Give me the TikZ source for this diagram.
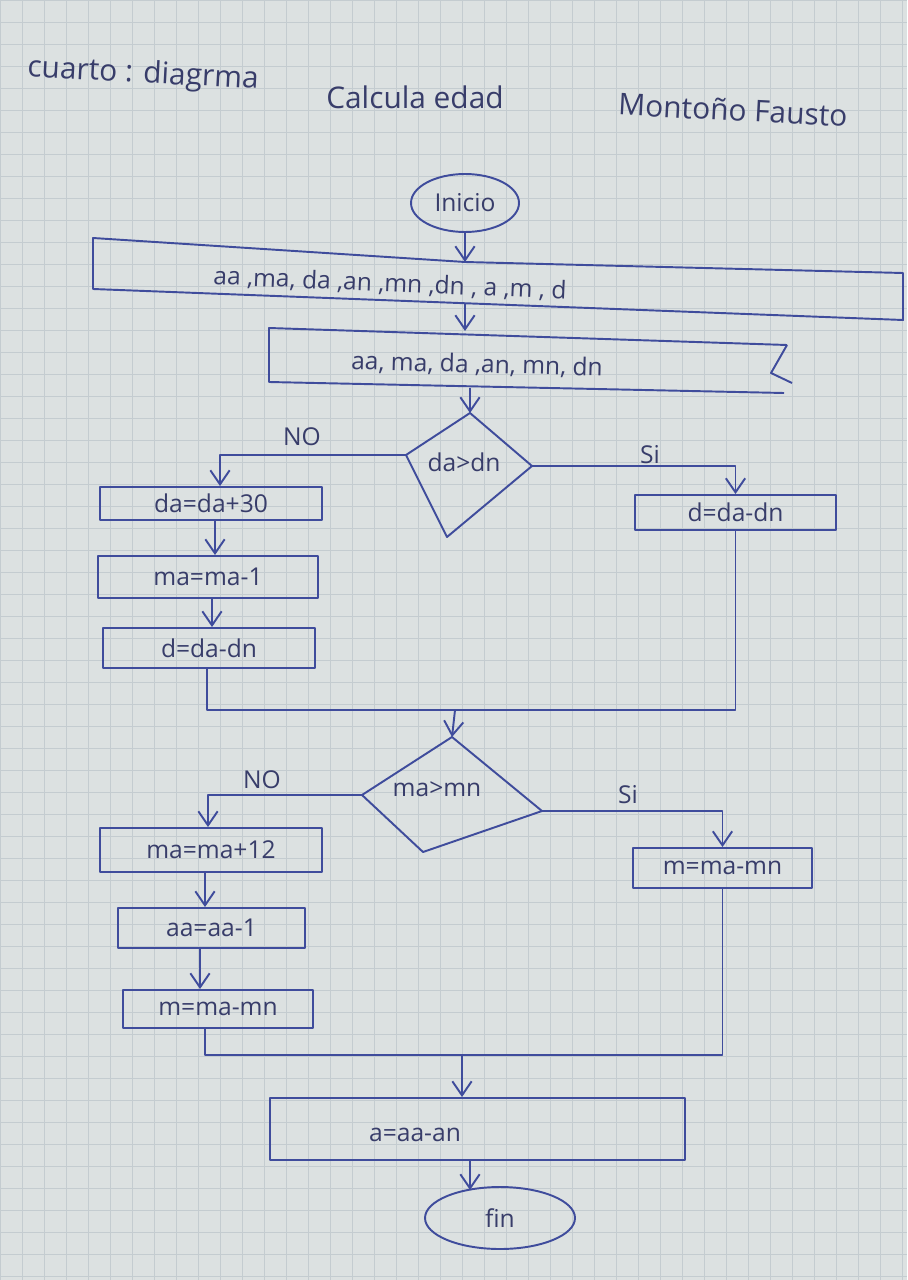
\documentclass[tikz,border=0pt]{standalone}
\usepackage{fontspec}
\setmainfont{Open Sans}
\usetikzlibrary{arrows.meta,shapes.geometric,calc}
\definecolor{paper}{HTML}{DCE1E1}
\definecolor{gridc}{HTML}{C4CCD0}
\definecolor{ink}{HTML}{3F4C9C}
\definecolor{txt}{HTML}{383D6A}
\begin{document}
\begin{tikzpicture}[x=0.02cm,y=-0.02cm,
  inkline/.style={draw=ink,line width=1.1pt,line join=round},
  arr/.style={inkline,-{Straight Barb[length=8pt,width=11pt,line width=1.1pt]}},
  box/.style={inkline,rectangle,inner sep=0pt,text=txt,font=\fontsize{14}{16}\selectfont},
  term/.style={inkline,ellipse,inner sep=0pt,text=txt,font=\fontsize{14}{16}\selectfont},
  lbl/.style={text=txt,font=\fontsize{14}{16}\selectfont,inner sep=1pt},
  ttl/.style={text=txt,font=\fontsize{17}{20}\selectfont,inner sep=1pt}]
% paper and grid
\fill[paper] (0,0) rectangle (907,1280);
\useasboundingbox (0,0) rectangle (907,1280);
\foreach \i in {0,22,...,907} \draw[gridc,line width=0.5pt] (\i,0) -- (\i,1280);
\foreach \j in {0,22,...,1280} \draw[gridc,line width=0.5pt] (0,\j) -- (907,\j);

% titles
\node[ttl,rotate=-3] (t1) at (143,75) {cuarto : diagrma};
\node[ttl] (t2) at (415,97) {Calcula edad};
\node[ttl,rotate=-3] (t3) at (733,110) {Montoño Fausto};

% start
\node[term,minimum width=2.16cm,minimum height=1.16cm] (inicio) at (465,203) {Inicio};

% input 1 (hand-drawn box)
\coordinate (i1tl) at (93,238);
\coordinate (i1tm) at (465,262);
\coordinate (i1tr) at (903,273);
\coordinate (i1br) at (903,320);
\coordinate (i1bl) at (93,289);
\draw[inkline] (i1tl) -- (i1tm) -- (i1tr) -- (i1br) -- (i1bl) -- cycle;
\node[lbl,rotate=-2.4] (in1) at (390,284) {aa ,ma, da ,an ,mn ,dn , a ,m , d};
\coordinate (in1n) at (465,262);
\coordinate (in1s) at (465,304);
\draw[arr] (inicio.south) -- (in1n);

% input 2 (box with broken right side)
\coordinate (i2tl) at (269,328);
\coordinate (i2tr) at (787,345);
\coordinate (i2z) at (771,373);
\coordinate (i2zr) at (792,383);
\coordinate (i2br) at (784,393);
\coordinate (i2bl) at (269,382);
\draw[inkline] (i2tr) -- (i2tl) -- (i2bl) -- (i2br);
\draw[inkline] (i2tr) -- (i2z) -- (i2zr);
\node[lbl,rotate=-1.5] (in2) at (477,365) {aa, ma, da ,an, mn, dn};
\coordinate (in2n) at (465,331);
\coordinate (in2s) at (470,388);
\draw[arr] (in1s) -- (in2n);

% decision 1
\coordinate (d1t) at (470,413);
\coordinate (d1r) at (532,466);
\coordinate (d1b) at (447,537);
\coordinate (d1l) at (406,455);
\draw[inkline] (d1t) -- (d1r) -- (d1b) -- (d1l) -- cycle;
\node[lbl] (d1) at (464,462) {da>dn};
\draw[arr] (in2s) -- (d1t);

% left branch 1
\node[box,minimum width=4.44cm,minimum height=0.66cm] (b1) at (211,503.5) {da=da+30};
\node[box,minimum width=4.40cm,minimum height=0.84cm] (b2) at (208,577) {ma=ma-1};
\node[box,minimum width=4.24cm,minimum height=0.80cm] (b3) at (209,648) {d=da-dn};
\draw[arr] (d1l) -- (220,455) -- (b1.north -| 220,0);
\node[lbl] (no1) at (302,437) {NO};
\draw[arr] (b1.south -| 215,0) -- (b2.north -| 215,0);
\draw[arr] (b2.south -| 212,0) -- (b3.north -| 212,0);

% right branch 1
\node[box,minimum width=4.02cm,minimum height=0.70cm] (r1) at (735.5,512.5) {d=da-dn};
\draw[arr] (d1r) -- (r1.north |- d1r) -- (r1.north);
\node[lbl] (si1) at (650,455) {Si};

% merge 1
\coordinate (j1) at (455,710);
\draw[inkline] (b3.south -| 207,0) |- (j1) -| (r1.south);

% decision 2
\coordinate (d2t) at (452,737);
\coordinate (d2r) at (542,811);
\coordinate (d2b) at (423,852);
\coordinate (d2l) at (362,795);
\draw[inkline] (d2t) -- (d2r) -- (d2b) -- (d2l) -- cycle;
\node[lbl] (d2) at (437,789) {ma>mn};
\draw[arr] (j1) -- (d2t);

% left branch 2
\node[box,minimum width=4.44cm,minimum height=0.88cm] (b4) at (211,850) {ma=ma+12};
\node[box,minimum width=3.74cm,minimum height=0.80cm] (b5) at (211.5,928) {aa=aa-1};
\node[box,minimum width=3.80cm,minimum height=0.76cm] (b6) at (218,1009) {m=ma-mn};
\draw[arr] (d2l) -- (208,795) -- (b4.north -| 208,0);
\node[lbl] (no2) at (262,780) {NO};
\draw[arr] (b4.south -| 205,0) -- (b5.north -| 205,0);
\draw[arr] (b5.south -| 200,0) -- (b6.north -| 200,0);

% right branch 2
\node[box,minimum width=3.58cm,minimum height=0.80cm] (r2) at (722.5,868) {m=ma-mn};
\draw[arr] (d2r) -- (r2.north |- d2r) -- (r2.north);
\node[lbl] (si2) at (628,795) {Si};

% merge 2
\coordinate (j2) at (462,1055);
\draw[inkline] (b6.south -| 205,0) |- (j2) -| (r2.south);

% final process
\node[box,minimum width=8.30cm,minimum height=1.24cm] (b7) at (477.5,1129) {};
\node[lbl] (b7t) at (415,1135) {a=aa-an};
\draw[arr] (j2) -- (b7.north -| j2);

% end
\node[term,minimum width=3.0cm,minimum height=1.24cm] (fin) at (500,1218) {fin};
\draw[arr] (b7.south -| 470,0) -- (470,1190);
\end{tikzpicture}
\end{document}
